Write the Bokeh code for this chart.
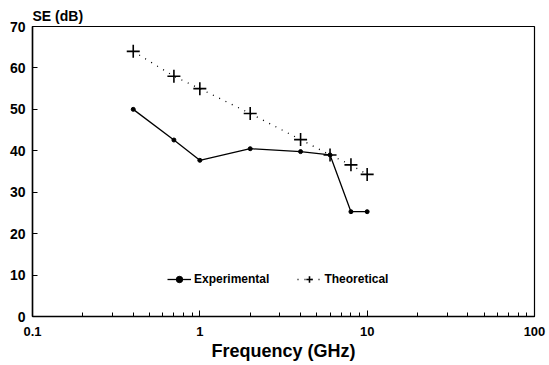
from bokeh.plotting import figure
from bokeh.models import Legend, LegendItem, FixedTicker, LogTicker, Title
from bokeh.embed import file_html
from bokeh.resources import INLINE

# Data
freq_ghz = [0.4, 0.7, 1, 2, 4, 6, 8, 10]
se_experimental = [50, 42.6, 37.7, 40.5, 39.8, 39, 25.3, 25.3]
se_theoretical = [64, 58, 55, 49, 42.7, 39, 36.6, 34.3]
x_tick_values = [0.1, 1, 10, 100]
y_tick_values = [0, 10, 20, 30, 40, 50, 60, 70]

FONT = "Liberation Sans"

p = figure(width=549, height=365, x_axis_type="log",
           x_range=(0.1, 100), y_range=(0, 70),
           output_backend="svg", toolbar_location=None,
           min_border_left=32, min_border_right=15,
           min_border_top=26, min_border_bottom=49)

p.grid.visible = False
p.outline_line_color = "black"
p.outline_line_width = 1.2
p.background_fill_color = "white"
p.border_fill_color = "white"

# title-like y label
p.title = Title(text="SE (dB)", align="left", text_font=FONT,
                text_font_style="bold", text_font_size="14px",
                text_color="black", standoff=6, offset=0)

# x axis
xa = p.xaxis[0]
xa.ticker = LogTicker(desired_num_ticks=4, num_minor_ticks=10)
xa.major_label_overrides = {0.1: "0.1", 1: "1", 10: "10", 100: "100"}
xa.major_tick_in = 6
xa.major_tick_out = 0
xa.minor_tick_in = 4
xa.minor_tick_out = 0
xa.axis_line_width = 1.5
xa.major_label_standoff = 10
xa.major_label_text_font = FONT
xa.major_label_text_font_style = "bold"
xa.major_label_text_font_size = "13px"
xa.major_label_text_color = "black"
xa.axis_label = "Frequency (GHz)"
xa.axis_label_standoff = 2
xa.axis_label_text_font = FONT
xa.axis_label_text_font_style = "bold"
xa.axis_label_text_font_size = "18px"
xa.axis_label_text_color = "black"

# y axis
ya = p.yaxis[0]
ya.ticker = FixedTicker(ticks=y_tick_values)
ya.major_tick_in = 5
ya.major_tick_out = 0
ya.minor_tick_in = 0
ya.minor_tick_out = 0
ya.axis_line_width = 1.5
ya.major_label_standoff = 7
ya.major_label_text_font = FONT
ya.major_label_text_font_style = "bold"
ya.major_label_text_font_size = "14px"
ya.major_label_text_color = "black"

# series
l_exp = p.line(freq_ghz, se_experimental, line_color="black", line_width=1.3)
s_exp = p.scatter(freq_ghz, se_experimental, marker="circle", size=4,
                  fill_color="black", line_color="black")
l_th = p.line(freq_ghz, se_theoretical, line_color="black", line_width=1.3,
              line_dash="1 6")
s_th = p.scatter(freq_ghz, se_theoretical, marker="cross", size=13,
                 line_color="black", line_width=1.6)

legend = Legend(items=[LegendItem(label="Experimental", renderers=[l_exp, s_exp]),
                       LegendItem(label="Theoretical", renderers=[l_th, s_th])],
                orientation="horizontal", location=(135, 29),
                padding=0, margin=0, spacing=28, label_standoff=3,
                glyph_width=24, glyph_height=16, label_height=16,
                background_fill_alpha=0, border_line_alpha=0,
                label_text_font=FONT, label_text_font_style="bold",
                label_text_font_size="12px", label_text_color="black")
p.add_layout(legend)

open("out.html", "w").write(file_html(p, INLINE))
